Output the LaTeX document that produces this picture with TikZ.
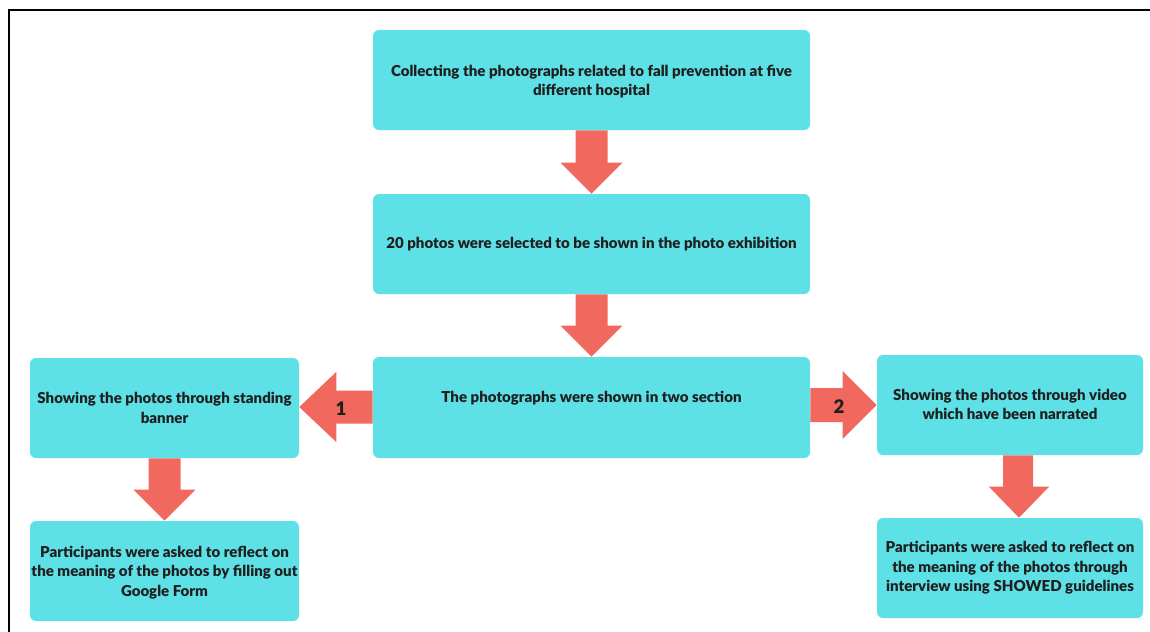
\documentclass[tikz,border=0pt]{standalone}
\usepackage{fontspec}
\setmainfont{Lato}[BoldFont={Lato Black}]
\usetikzlibrary{calc}
\definecolor{boxcyan}{RGB}{94,225,230}
\definecolor{arrred}{RGB}{240,104,94}
\tikzset{
  box/.style 2 args={fill=boxcyan, draw=none, rounded corners=4.5pt,
    minimum width=#1*0.75pt, minimum height=#2*0.75pt, inner sep=0pt},
  txt/.style={font=\fontsize{11.3pt}{14.6pt}\selectfont\bfseries, align=center, text=black!88, inner sep=0pt},
  num/.style={font=\fontsize{14pt}{14pt}\selectfont\bfseries, text=black!88, inner sep=0pt},
  frame/.style={line width=1.5pt, draw=black},
  arr/.style={fill=arrred, draw=none}
}
\begin{document}
\begin{tikzpicture}[x=0.75pt,y=-0.75pt]
\useasboundingbox (0,0) rectangle (1150,632);
% frame
\coordinate (fTR) at (1150,10);
\coordinate (fTL) at (9,10);
\coordinate (fBL) at (9,632);
\draw[frame] (fTR) -- (fTL) -- (fBL);
% boxes
\node[box={437}{100}] (A) at (591.5,80) {};
\node[box={437}{100}] (B) at (591.5,244) {};
\node[box={437}{101}] (C) at (591.5,407.5) {};
\node[box={269}{100}] (L) at (164.5,408) {};
\node[box={266}{100}] (R) at (1010,405) {};
\node[box={269}{100}] (LL) at (164.5,571) {};
\node[box={266}{100}] (RR) at (1010,568) {};
% texts
\node[txt] (tA) at (591.5,81.5) {Collecting the photographs related to fall prevention at five\\different hospital};
\node[txt] (tB) at (591.5,244) {20 photos were selected to be shown in the photo exhibition};
\node[txt] (tC) at (591.5,398) {The photographs were shown in two section};
\node[txt] (tL) at (164.5,408) {Showing the photos through standing\\banner};
\node[txt] (tR) at (1010,404.5) {Showing the photos through video\\which have been narrated};
\node[txt] (tLL) at (164.5,572.5) {Participants were asked to reflect on\\the meaning of the photos by filling out\\Google Form};
\node[txt] (tRR) at (1010,568) {Participants were asked to reflect on\\the meaning of the photos through\\interview using SHOWED guidelines};
% down arrows
\fill[arr] ($(A.south)+(-16,0)$) -- ($(A.south)+(16,0)$) -- ($(B.north)+(16,-31)$) -- ($(B.north)+(31,-31)$) -- (B.north) -- ($(B.north)+(-31,-31)$) -- ($(B.north)+(-16,-31)$) -- cycle;
\fill[arr] ($(B.south)+(-16,0)$) -- ($(B.south)+(16,0)$) -- ($(C.north)+(16,-31)$) -- ($(C.north)+(31,-31)$) -- (C.north) -- ($(C.north)+(-31,-31)$) -- ($(C.north)+(-16,-31)$) -- cycle;
\fill[arr] ($(L.south)+(-16,0)$) -- ($(L.south)+(16,0)$) -- ($(LL.north)+(16,-31)$) -- ($(LL.north)+(31,-31)$) -- (LL.north) -- ($(LL.north)+(-31,-31)$) -- ($(LL.north)+(-16,-31)$) -- cycle;
\fill[arr] ($(R.south)+(-7,0)$) -- ($(R.south)+(23,0)$) -- ($(RR.north)+(23,-31)$) -- ($(RR.north)+(39,-31)$) -- ($(RR.north)+(9,0)$) -- ($(RR.north)+(-21,-31)$) -- ($(RR.north)+(-7,-31)$) -- cycle;
% side arrows
\coordinate (lt) at (L.east |- 0,407);
\coordinate (ls) at (C.west |- 0,407);
\fill[arr] ($(ls)+(0,-16.5)$) -- ($(ls)+(0,16.5)$) -- ($(lt)+(37,16.5)$) -- ($(lt)+(37,35)$) -- (lt) -- ($(lt)+(37,-35)$) -- ($(lt)+(37,-16.5)$) -- cycle;
\node[num] (n1) at (341,409) {1};
\coordinate (rt) at (R.west |- 0,405);
\coordinate (rs) at (C.east |- 0,405);
\fill[arr] ($(rs)+(0,-17)$) -- ($(rs)+(0,17)$) -- ($(rt)+(-34,17)$) -- ($(rt)+(-34,34)$) -- (rt) -- ($(rt)+(-34,-34)$) -- ($(rt)+(-34,-17)$) -- cycle;
\node[num] (n2) at (839,407) {2};
\end{tikzpicture}
\end{document}
